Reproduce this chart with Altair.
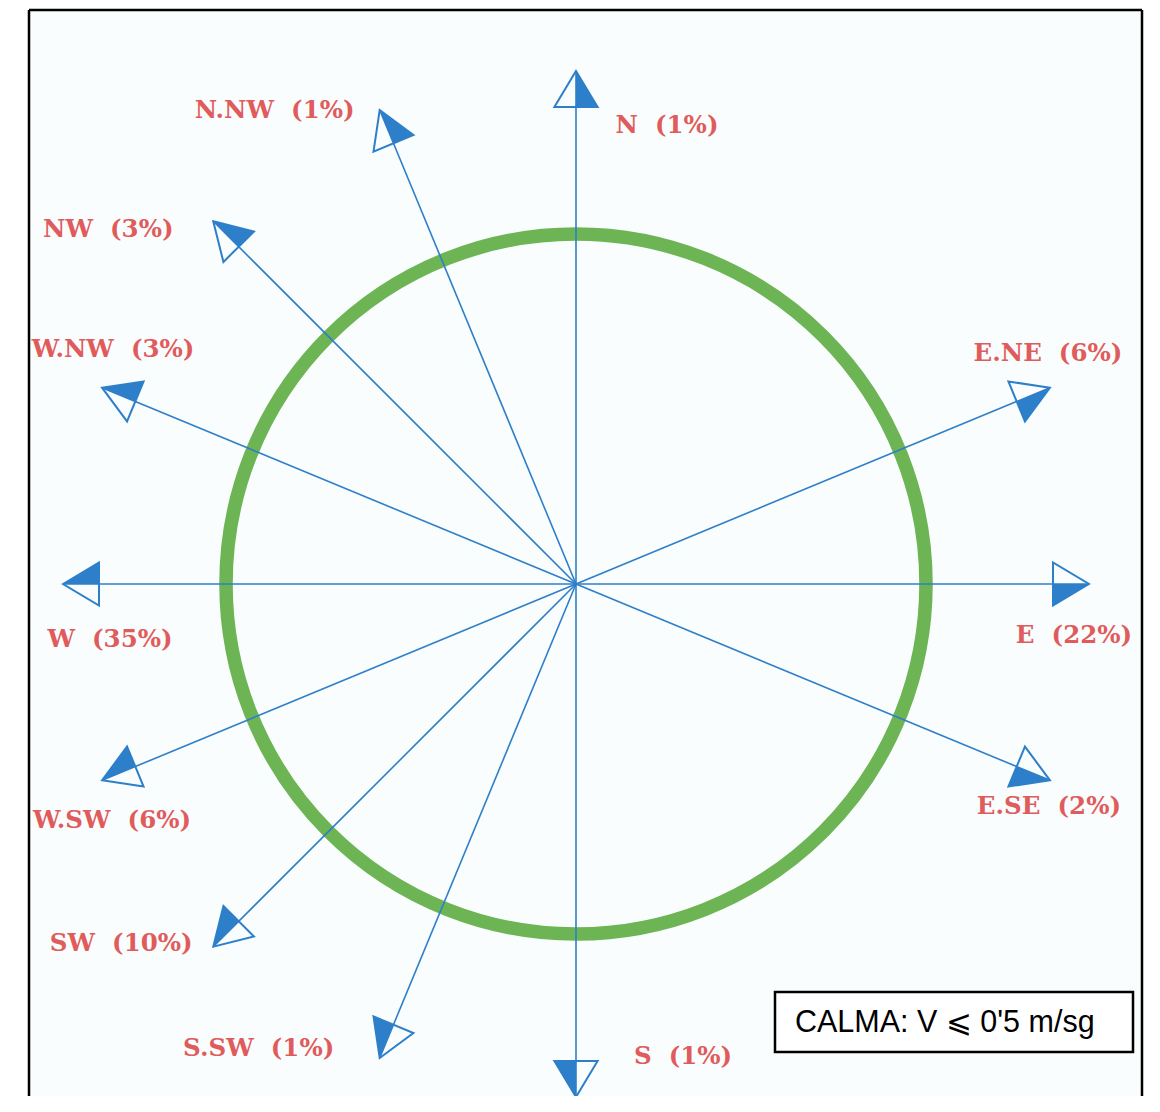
import altair as alt
import pandas as pd

# ---------------- data ----------------
directions = ["N", "N.NW", "NW", "W.NW", "W", "W.SW", "SW", "S.SW", "S", "E.SE", "E", "E.NE"]
bearings = [0, 337.5, 315, 292.5, 270, 247.5, 225, 202.5, 180, 112.5, 90, 67.5]
percentages = [1, 1, 3, 3, 35, 6, 10, 1, 1, 2, 22, 6]
calm_note = "CALMA: V \u2a7d 0'5 m/sg"

# ---------------- layout / style ----------------
W, H = 1113, 1086          # plot area (the framed panel)
CX, CY = 547, 574          # centre of the rose inside the panel (px)
ARROW_LEN = 513
RING_R = 350
HEAD = 36                  # arrowhead length in px
BLUE = "#2e7fc9"
GREEN = "#6cb454"
RED = "#e05c5c"
BG = "#fafdfd"

# label offset from the arrow tip (px, y up)
label_offsets = {
    "N": (91, -55), "N.NW": (-105, -1), "NW": (-105, -9), "W.NW": (11, 38),
    "W": (47, -56), "W.SW": (10, -41), "SW": (-92, 3), "S.SW": (-121, 9),
    "S": (107, 40), "E.SE": (-1, -27), "E": (-15, -52), "E.NE": (-2, 34),
}

df = pd.DataFrame({
    "dir": directions,
    "bearing": bearings,
    "pct": percentages,
})
df["label"] = [f"{d}\u00a0\u00a0({p}%)" for d, p in zip(directions, percentages)]
df["ldx"] = [label_offsets[d][0] for d in directions]
df["ldy"] = [label_offsets[d][1] for d in directions]

xs = alt.Scale(domain=[-CX, W - CX], nice=False, zero=False)
ys = alt.Scale(domain=[CY - H, CY], nice=False, zero=False)

base = alt.Chart(df).transform_calculate(
    tx=f"{ARROW_LEN} * sin(datum.bearing * PI / 180)",
    ty=f"{ARROW_LEN} * cos(datum.bearing * PI / 180)",
    ox="0",
    oy="0",
).transform_calculate(
    lx="datum.tx + datum.ldx",
    ly="datum.ty + datum.ldy",
)

# ring
ring = alt.Chart(pd.DataFrame({"cx": [0], "cy": [0]})).mark_point(
    shape="circle", filled=False, stroke=GREEN, strokeWidth=13.5, opacity=1,
    size=(2 * RING_R) ** 2,
).encode(
    x=alt.X("cx:Q", scale=xs, axis=None),
    y=alt.Y("cy:Q", scale=ys, axis=None),
)

shafts = base.mark_rule(color=BLUE, strokeWidth=1.6).encode(
    x=alt.X("ox:Q", scale=xs, axis=None),
    y=alt.Y("oy:Q", scale=ys, axis=None),
    x2="tx:Q",
    y2="ty:Q",
)

HALF_PATH = "M0,0L0.6,1L0,1Z"
FULL_PATH = "M0,0L0.6,1L-0.6,1Z"
head_size = (2 * HEAD) ** 2

head_fill = base.mark_point(
    shape=HALF_PATH, filled=True, fill=BLUE, opacity=1, strokeWidth=0,
    size=head_size,
).encode(
    x=alt.X("tx:Q", scale=xs, axis=None),
    y=alt.Y("ty:Q", scale=ys, axis=None),
    angle=alt.Angle("bearing:Q", scale=None),
)

head_outline = base.mark_point(
    shape=FULL_PATH, filled=False, stroke=BLUE, strokeWidth=2, opacity=1,
    strokeJoin="miter", size=head_size,
).encode(
    x=alt.X("tx:Q", scale=xs, axis=None),
    y=alt.Y("ty:Q", scale=ys, axis=None),
    angle=alt.Angle("bearing:Q", scale=None),
)

labels = base.mark_text(
    font="DejaVu Serif", fontWeight="bold", fontSize=24.5, color=RED,
    align="center", baseline="middle",
).encode(
    x=alt.X("lx:Q", scale=xs, axis=None),
    y=alt.Y("ly:Q", scale=ys, axis=None),
    text="label:N",
)

one = pd.DataFrame({"a": [0]})

calm_box = alt.Chart(one).mark_rect(fill="white", stroke="black", strokeWidth=2.5).encode(
    x=alt.value(746), x2=alt.value(1104), y=alt.value(982), y2=alt.value(1042),
)
calm_text = alt.Chart(pd.DataFrame({"t": [calm_note]})).mark_text(
    font="Liberation Sans", fontSize=30.5, color="black", align="left", baseline="middle",
).encode(
    x=alt.value(766), y=alt.value(1013), text="t:N",
)

frame_left = alt.Chart(one).mark_rule(color="black", strokeWidth=2.5).encode(
    x=alt.value(0), y=alt.value(0), y2=alt.value(H + 10),
)
frame_right = alt.Chart(one).mark_rule(color="black", strokeWidth=2.5).encode(
    x=alt.value(W), y=alt.value(0), y2=alt.value(H + 10),
)
frame_top = alt.Chart(one).mark_rule(color="black", strokeWidth=2.5).encode(
    x=alt.value(0), x2=alt.value(W), y=alt.value(0),
)

chart = alt.layer(
    ring, shafts, head_fill, head_outline, labels,
    calm_box, calm_text, frame_left, frame_right, frame_top,
).properties(
    width=W, height=H,
    autosize=alt.AutoSizeParams(type="none"),
    padding={"left": 21, "top": 2, "right": 10, "bottom": 0},
    background="white",
).configure_view(strokeWidth=0, fill=BG)

chart.save("out.html", embed_options={"renderer": "svg", "actions": False})
